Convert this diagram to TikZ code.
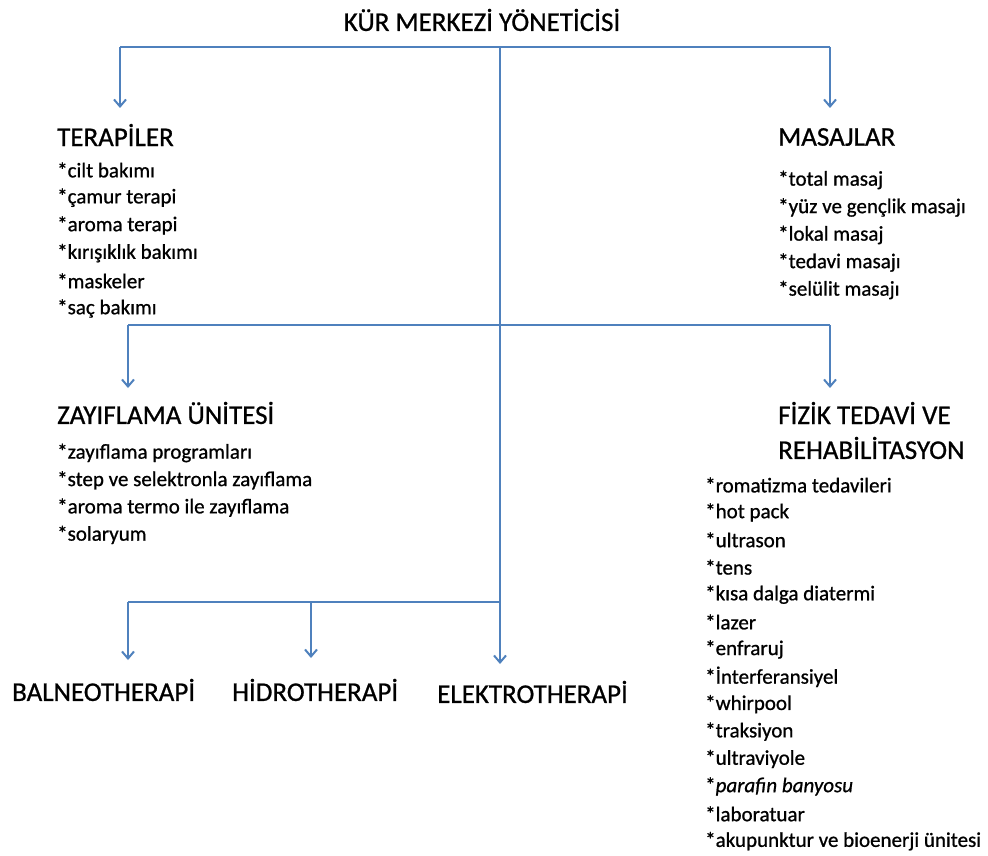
\documentclass[tikz,border=0pt]{standalone}
\usepackage{fontspec}
\setmainfont{Carlito}[FakeBold=0.7]
\usetikzlibrary{arrows.meta}
\definecolor{linkblue}{HTML}{4F81BD}
\tikzset{
  head/.style={inner sep=0pt, anchor=west, font=\fontsize{27}{30}\selectfont\addfontfeature{FakeBold=0.8}},
  item/.style={inner sep=0pt, anchor=west, font=\fontsize{21}{24}\selectfont\addfontfeature{FakeBold=0.8}},
  link/.style={draw=linkblue, line width=2pt},
  barlink/.style={draw=linkblue, line width=2.8pt},
  tolink/.style={draw=linkblue, line width=2pt, -{Straight Barb[length=7pt,width=12pt,line width=2pt]}},
}
\begin{document}
\begin{tikzpicture}[x=1pt,y=-1pt]
\useasboundingbox (0,0) rectangle (988,856);

% title
\node[head, anchor=center] (title) at (482,20) {KÜR MERKEZİ YÖNETİCİSİ};

% group headings
\node[head] (ter) at (57,135) {TERAPİLER};
\node[head] (mas) at (778,137) {MASAJLAR};
\node[head] (zay) at (57,413) {ZAYIFLAMA ÜNİTESİ};
\node[head] (fiz) at (778,413) {FİZİK TEDAVİ VE};
\node[head] (reh) at (778,448) {REHABİLİTASYON};
\node[head] (bal) at (12,690) {BALNEOTHERAPİ};
\node[head] (hid) at (232,690) {HİDROTHERAPİ};
\node[head] (ele) at (437,692) {ELEKTROTHERAPİ};

% item lists
\foreach \t [count=\i] in {*cilt bakımı,*çamur terapi,*aroma terapi,*kırışıklık bakımı,*maskeler,*saç bakımı}
  \node[item] (ter\i) at (57,{170+27.7*(\i-1)}) {\t};
\foreach \t [count=\i] in {*total masaj,*yüz ve gençlik masajı,*lokal masaj,*tedavi masajı,*selülit masajı}
  \node[item] (mas\i) at (778,{180+27.5*(\i-1)}) {\t};
\foreach \t [count=\i] in {*zayıflama programları,*step ve selektronla zayıflama,*aroma termo ile zayıflama,*solaryum}
  \node[item] (zay\i) at (57,{453+27.3*(\i-1)}) {\t};
\foreach \t [count=\i] in {*romatizma tedavileri,*hot pack,*ultrason,*tens,*kısa dalga diatermi,*lazer,*enfraruj,*İnterferansiyel,*whirpool,*traksiyon,*ultraviyole,{*\textit{parafin banyosu}},*laboratuar,*akupunktur ve bioenerji ünitesi}
  \node[item] (fiz\i) at (705,{485+27.4*(\i-1)}) {\t};

% junction points of the tree
\coordinate (a0) at (500,47);
\coordinate (a1) at (120,47);
\coordinate (a2) at (830,47);
\coordinate (b0) at (500,325);
\coordinate (b1) at (128,325);
\coordinate (b2) at (830,325);
\coordinate (c0) at (500,602);
\coordinate (c1) at (128,602);
\coordinate (c2) at (311,602);

% arrow ends above the headings
\coordinate (e1) at (120,108);
\coordinate (e2) at (830,108);
\coordinate (e3) at (128,388);
\coordinate (e4) at (830,388);
\coordinate (e5) at (128,660);
\coordinate (e6) at (311,658);
\coordinate (e7) at (500,664);

% connectors
\draw[barlink] (a1) -- (a2);
\draw[link] (b1) -- (b2);
\draw[link] (c1) -- (c0);
\draw[tolink] (a0) -- (e7);
\draw[tolink] (a1) -- (e1);
\draw[tolink] (a2) -- (e2);
\draw[tolink] (b1) -- (e3);
\draw[tolink] (b2) -- (e4);
\draw[tolink] (c1) -- (e5);
\draw[tolink] (c2) -- (e6);
\end{tikzpicture}
\end{document}
